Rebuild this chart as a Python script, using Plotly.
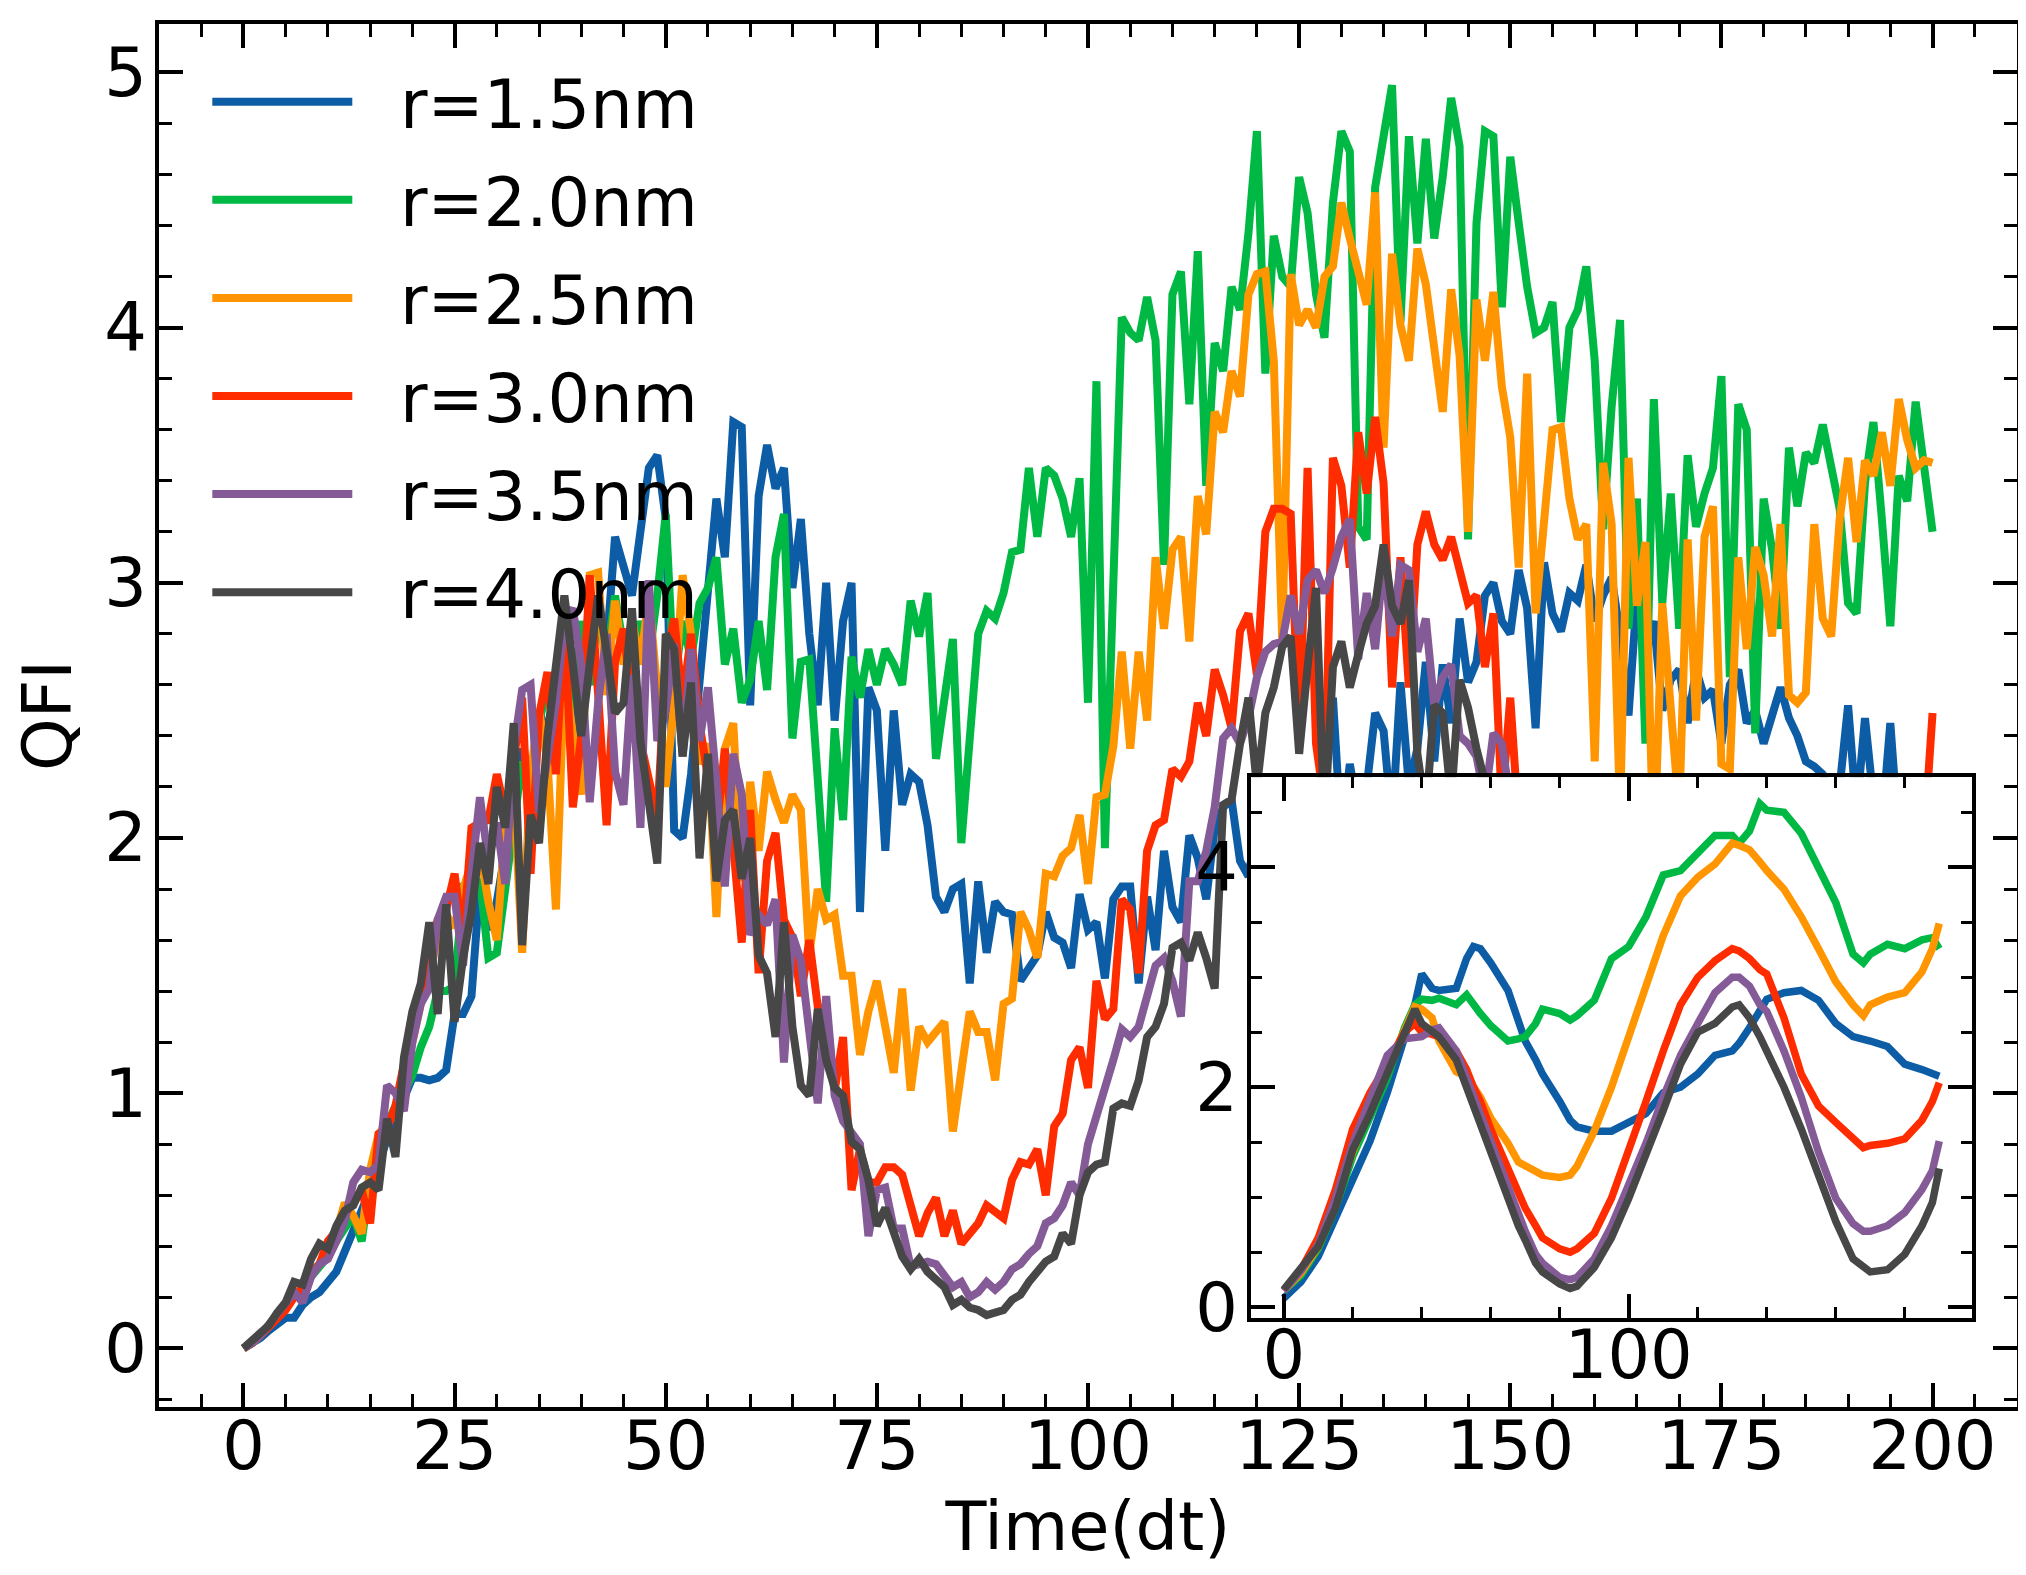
import plotly.graph_objects as go

# ---- main panel data: QFI vs time step (dt = 0..200) ----
qfi_r15 = [
    0.00, 0.02, 0.04, 0.07, 0.10, 0.12, 0.12, 0.17, 0.20, 0.22,
    0.26, 0.30, 0.38, 0.46, 0.52, 0.62, 0.72, 0.82, 0.92, 0.98,
    1.06, 1.06, 1.05, 1.06, 1.09, 1.31, 1.31, 1.38, 1.82, 1.64,
    1.75, 1.95, 2.15, 2.35, 2.20, 2.50, 2.40, 2.62, 2.45, 2.34,
    2.75, 2.60, 2.90, 2.75, 3.18, 3.07, 2.95, 3.20, 3.45, 3.50,
    3.25, 2.03, 2.00, 2.25, 2.64, 2.95, 3.33, 3.10, 3.63, 3.61,
    2.52, 3.34, 3.54, 3.37, 3.45, 2.98, 3.25, 2.80, 2.52, 3.00,
    2.46, 2.85, 3.00, 1.71, 2.59, 2.50, 1.95, 2.50, 2.13, 2.25,
    2.22, 2.05, 1.77, 1.71, 1.80, 1.82, 1.43, 1.83, 1.55, 1.75,
    1.71, 1.70, 1.44, 1.49, 1.54, 1.71, 1.61, 1.59, 1.49, 1.78,
    1.64, 1.67, 1.45, 1.76, 1.81, 1.81, 1.43, 1.77, 1.56, 1.95,
    1.73, 1.67, 2.01, 1.92, 1.76, 2.04, 2.12, 2.15, 1.91, 1.85,
    2.05, 1.95, 2.15, 1.90, 2.10, 2.20, 1.95, 2.15, 2.30, 2.55,
    2.00, 2.29, 2.10, 2.20, 2.49, 2.42, 2.05, 2.61, 2.20, 2.35,
    2.69, 2.30, 2.68, 2.45, 2.86, 2.61, 2.69, 2.95, 3.00, 2.85,
    2.80, 3.05, 2.90, 2.43, 3.08, 2.88, 2.81, 2.96, 2.93, 3.07,
    2.85, 2.95, 3.02, 2.80, 2.48, 2.95, 2.74, 2.85, 2.50, 2.62,
    2.66, 2.45, 2.66, 2.55, 2.58, 2.37, 2.60, 2.66, 2.45, 2.50,
    2.37, 2.48, 2.59, 2.47, 2.40, 2.30, 2.28, 2.25, 2.15, 2.20,
    2.52, 2.10, 2.47, 2.15, 2.05, 2.45, 2.00, 2.10, 2.05, 2.15,
    2.10,
]
qfi_r20 = [
    0.00, 0.02, 0.05, 0.08, 0.12, 0.16, 0.20, 0.24, 0.28, 0.31,
    0.36, 0.42, 0.47, 0.52, 0.42, 0.66, 0.80, 0.88, 0.95, 1.00,
    1.07, 1.18, 1.26, 1.40, 1.40, 1.42, 1.80, 1.78, 1.84, 1.53,
    1.55, 1.80, 2.05, 2.30, 2.10, 2.45, 2.60, 2.40, 2.75, 2.50,
    2.85, 2.60, 2.90, 2.70, 2.95, 2.75, 2.60, 2.85, 2.70, 2.95,
    3.27, 2.60, 2.85, 2.70, 2.92, 2.98, 3.10, 2.68, 2.82, 2.53,
    2.62, 2.85, 2.58, 3.10, 3.27, 2.39, 2.69, 2.70, 2.23, 1.75,
    2.43, 2.07, 2.71, 2.55, 2.74, 2.60, 2.74, 2.68, 2.60, 2.93,
    2.79, 2.96, 2.31, 2.53, 2.78, 1.98, 2.40, 2.80, 2.89, 2.86,
    2.96, 3.12, 3.13, 3.45, 3.18, 3.45, 3.42, 3.33, 3.18, 3.41,
    2.53, 3.79, 1.96, 3.13, 4.04, 3.98, 3.95, 4.12, 3.95, 3.07,
    4.13, 4.22, 3.70, 4.30, 3.38, 3.94, 3.83, 4.16, 4.07, 4.37,
    4.77, 3.82, 4.36, 4.20, 4.16, 4.59, 4.45, 4.13, 3.96, 4.49,
    4.77, 4.69, 3.22, 3.17, 4.55, 4.75, 4.95, 4.02, 4.75, 4.33,
    4.74, 4.35, 4.59, 4.90, 4.71, 3.17, 4.41, 4.77, 4.75, 4.08,
    4.67, 4.41, 4.16, 3.98, 4.00, 4.10, 3.63, 4.00, 4.07, 4.24,
    3.87, 3.21, 3.69, 4.03, 2.82, 3.33, 2.37, 3.72, 2.92, 3.35,
    2.82, 3.50, 3.22, 3.35, 3.45, 3.81, 2.63, 3.70, 3.60, 2.41,
    3.33, 3.13, 2.82, 3.53, 3.30, 3.51, 3.47, 3.62, 3.47, 3.29,
    2.92, 2.88, 3.39, 3.63, 3.25, 2.83, 3.42, 3.32, 3.71, 3.45,
    3.20,
]
qfi_r25 = [
    0.00, 0.02, 0.05, 0.09, 0.12, 0.16, 0.20, 0.24, 0.29, 0.33,
    0.38, 0.46, 0.57, 0.52, 0.45, 0.70, 0.84, 0.88, 0.92, 1.05,
    1.20, 1.35, 1.45, 1.62, 1.70, 1.65, 1.80, 1.90, 1.95, 1.75,
    1.60, 2.05, 2.20, 1.55, 2.25, 2.50, 2.30, 1.72, 2.65, 2.40,
    2.17, 3.03, 3.04, 2.56, 2.93, 2.68, 2.86, 2.68, 2.95, 2.58,
    2.20, 2.53, 3.03, 2.80, 2.29, 2.37, 1.69, 2.35, 2.45, 1.83,
    2.22, 1.95, 2.26, 2.15, 2.06, 2.17, 2.11, 1.54, 1.80, 1.68,
    1.70, 1.46, 1.46, 1.15, 1.32, 1.44, 1.26, 1.08, 1.41, 1.01,
    1.26, 1.20, 1.24, 1.28, 0.85, 1.11, 1.32, 1.24, 1.24, 1.05,
    1.35, 1.37, 1.71, 1.64, 1.53, 1.86, 1.85, 1.93, 1.96, 2.09,
    1.82, 2.16, 2.17, 2.36, 2.73, 2.35, 2.73, 2.46, 3.10, 2.82,
    3.13, 3.18, 2.77, 3.34, 3.19, 3.67, 3.59, 3.83, 3.73, 4.13,
    4.21, 4.22, 3.87, 2.77, 4.21, 4.01, 4.07, 4.00, 4.20, 4.24,
    4.49, 4.35, 4.21, 4.09, 4.53, 3.53, 4.29, 4.01, 3.87, 4.31,
    4.17, 3.93, 3.67, 4.15, 3.89, 3.20, 4.11, 3.87, 4.14, 3.77,
    3.57, 3.06, 3.82, 2.88, 3.25, 3.60, 3.61, 3.33, 3.17, 3.23,
    2.30, 3.47, 3.23, 2.10, 3.49, 2.91, 3.16, 1.90, 2.92, 2.53,
    2.10, 3.17, 2.46, 3.18, 3.30, 2.29, 2.27, 3.10, 2.74, 3.14,
    3.03, 2.79, 3.23, 2.56, 2.53, 2.57, 3.23, 2.86, 2.79, 3.25,
    3.49, 3.16, 3.48, 3.42, 3.59, 3.38, 3.72, 3.56, 3.45, 3.48,
    3.47,
]
qfi_r30 = [
    0.00, 0.02, 0.05, 0.08, 0.12, 0.15, 0.20, 0.24, 0.30, 0.33,
    0.42, 0.46, 0.52, 0.58, 0.62, 0.49, 0.84, 0.86, 0.95, 1.10,
    1.28, 1.38, 1.55, 1.68, 1.72, 1.86, 1.60, 2.04, 2.06, 2.07,
    2.25, 2.10, 2.30, 2.55, 1.86, 2.48, 2.65, 2.25, 2.86, 2.12,
    2.40, 3.03, 2.56, 2.05, 2.69, 2.82, 2.53, 2.38, 2.26, 2.08,
    2.69, 2.86, 2.53, 2.80, 2.45, 2.23, 2.02, 2.35, 2.00, 1.59,
    2.11, 1.47, 1.91, 2.02, 1.68, 1.61, 1.38, 1.60, 1.34, 1.32,
    1.01, 1.22, 0.62, 0.78, 0.65, 0.65, 0.71, 0.71, 0.68, 0.55,
    0.44, 0.53, 0.59, 0.44, 0.54, 0.41, 0.45, 0.49, 0.56, 0.53,
    0.51, 0.66, 0.73, 0.72, 0.78, 0.60, 0.87, 0.92, 1.13, 1.18,
    1.02, 1.44, 1.29, 1.33, 1.76, 1.72, 1.47, 1.95, 2.05, 2.07,
    2.27, 2.24, 2.30, 2.53, 2.40, 2.66, 2.56, 2.43, 2.81, 2.88,
    2.64, 3.20, 3.29, 3.29, 3.27, 2.37, 3.45, 2.37, 2.13, 3.49,
    3.38, 3.06, 3.59, 3.35, 3.65, 3.39, 2.59, 3.10, 2.59, 3.15,
    3.28, 3.15, 3.09, 3.18, 3.05, 2.92, 2.95, 2.67, 2.88, 2.13,
    2.55, 2.05, 2.10, 1.95, 2.00, 1.85, 1.90, 1.75, 1.80, 1.70,
    1.75, 1.60, 1.70, 1.55, 1.65, 1.50, 1.60, 1.45, 1.55, 1.40,
    1.50, 1.40, 1.45, 1.38, 1.50, 1.40, 1.48, 1.42, 1.50, 1.45,
    1.55, 1.50, 1.60, 1.55, 1.65, 1.60, 1.70, 1.68, 1.80, 1.75,
    1.85, 1.90, 1.95, 1.90, 2.05, 2.00, 2.10, 2.05, 2.15, 2.00,
    2.49,
]
qfi_r35 = [
    0.00, 0.02, 0.05, 0.09, 0.13, 0.17, 0.22, 0.18, 0.28, 0.33,
    0.35, 0.42, 0.50, 0.65, 0.70, 0.69, 0.72, 1.03, 1.00, 0.93,
    1.20, 1.35, 1.41, 1.68, 1.77, 1.77, 1.50, 1.86, 2.16, 1.91,
    2.06, 1.82, 2.35, 2.58, 2.60, 2.10, 2.30, 2.53, 2.85, 2.90,
    2.68, 2.14, 2.53, 2.80, 2.26, 2.13, 2.64, 2.04, 3.01, 2.38,
    2.50, 2.76, 2.32, 2.74, 2.38, 2.59, 2.22, 1.81, 2.33, 2.17,
    1.62, 1.70, 1.66, 1.76, 1.12, 1.62, 1.52, 1.26, 0.96, 1.38,
    0.99, 0.89, 0.85, 0.80, 0.44, 0.62, 0.63, 0.47, 0.47, 0.32,
    0.33, 0.34, 0.33, 0.29, 0.24, 0.26, 0.20, 0.22, 0.26, 0.23,
    0.26, 0.31, 0.33, 0.37, 0.40, 0.49, 0.51, 0.56, 0.65, 0.60,
    0.80, 0.91, 1.01, 1.13, 1.25, 1.22, 1.26, 1.38, 1.50, 1.53,
    1.44, 1.30, 1.83, 1.83, 1.95, 2.12, 2.39, 2.43, 2.37, 2.47,
    2.63, 2.73, 2.76, 2.77, 2.95, 2.80, 3.01, 3.05, 2.96, 3.06,
    3.18, 3.25, 2.70, 2.96, 2.74, 3.09, 2.79, 3.07, 3.05, 2.73,
    2.86, 2.52, 2.63, 2.68, 2.40, 2.37, 2.32, 2.15, 2.41, 2.37,
    2.15, 2.00, 1.95, 1.80, 1.75, 1.60, 1.50, 1.40, 1.30, 1.25,
    1.15, 1.10, 1.00, 0.95, 0.90, 0.85, 0.80, 0.78, 0.74, 0.72,
    0.70, 0.68, 0.70, 0.68, 0.70, 0.72, 0.74, 0.76, 0.80, 0.82,
    0.85, 0.88, 0.92, 0.95, 0.98, 1.00, 1.05, 1.10, 1.15, 1.20,
    1.28, 1.35, 1.40, 1.48, 1.55, 1.60, 1.68, 1.75, 1.80, 1.88,
    1.95,
]
qfi_r40 = [
    0.00, 0.03, 0.06, 0.09, 0.14, 0.18, 0.26, 0.25, 0.35, 0.41,
    0.39, 0.48, 0.54, 0.56, 0.63, 0.65, 0.62, 0.90, 0.75, 1.14,
    1.32, 1.43, 1.67, 1.31, 1.74, 1.28, 1.53, 1.71, 1.98, 1.82,
    2.20, 2.04, 2.45, 1.58, 2.09, 1.98, 2.40, 2.65, 2.95, 2.68,
    2.40, 2.68, 2.95, 2.73, 2.49, 2.53, 2.90, 2.38, 2.14, 1.90,
    2.80, 2.74, 2.32, 2.61, 1.92, 2.33, 1.83, 2.07, 2.11, 1.84,
    2.00, 1.54, 1.47, 1.22, 1.67, 1.26, 1.03, 0.99, 1.33, 1.13,
    1.02, 0.99, 0.81, 0.78, 0.66, 0.48, 0.55, 0.45, 0.36, 0.31,
    0.35, 0.30, 0.27, 0.24, 0.17, 0.19, 0.16, 0.15, 0.13, 0.14,
    0.15, 0.19, 0.21, 0.26, 0.30, 0.34, 0.36, 0.45, 0.41, 0.60,
    0.69, 0.72, 0.73, 0.94, 0.96, 0.95, 1.05, 1.22, 1.26, 1.35,
    1.57, 1.59, 1.52, 1.63, 1.53, 1.41, 2.13, 2.15, 2.37, 2.55,
    2.20, 2.49, 2.59, 2.75, 2.79, 2.33, 2.67, 2.98, 2.05, 2.67,
    2.77, 2.59, 2.72, 2.84, 2.91, 3.15, 2.91, 2.84, 3.01, 2.33,
    2.10, 2.52, 2.49, 2.15, 2.62, 2.51, 2.35, 2.22, 2.05, 1.95,
    1.85, 1.90, 1.70, 1.55, 1.60, 1.40, 1.35, 1.20, 1.15, 1.00,
    0.95, 0.85, 0.80, 0.70, 0.68, 0.60, 0.55, 0.50, 0.45, 0.42,
    0.38, 0.35, 0.33, 0.30, 0.31, 0.29, 0.32, 0.34, 0.36, 0.40,
    0.45, 0.50, 0.55, 0.60, 0.66, 0.70, 0.75, 0.80, 0.86, 0.90,
    0.95, 1.00, 1.08, 1.15, 1.20, 1.28, 1.35, 1.42, 1.50, 1.55,
    1.62,
]

# ---- inset data: smoothed curves ----
t_inset = [0, 5, 10, 15, 20, 25, 30, 35, 38, 40, 43, 45, 50, 53, 55, 57, 60, 65,
           68, 70, 73, 75, 80, 83, 85, 90, 95, 100, 105, 110, 115, 120, 125, 130,
           132, 135, 138, 140, 145, 150, 155, 160, 165, 168, 170, 175, 180, 185,
           188, 190]
sm_r15 = [0.08, 0.23, 0.46, 0.82, 1.18, 1.51, 1.95, 2.46, 2.75, 3.03, 2.90, 2.88,
          2.90, 3.17, 3.28, 3.26, 3.13, 2.88, 2.63, 2.42, 2.25, 2.12, 1.87, 1.70,
          1.64, 1.60, 1.60, 1.68, 1.76, 1.95, 2.00, 2.12, 2.29, 2.33, 2.40, 2.54,
          2.70, 2.80, 2.86, 2.88, 2.79, 2.58, 2.46, 2.44, 2.42, 2.37, 2.21, 2.16,
          2.13, 2.10]
sm_r20 = [0.15, 0.29, 0.53, 0.90, 1.37, 1.74, 2.08, 2.54, 2.75, 2.80, 2.79, 2.81,
          2.75, 2.84, 2.75, 2.67, 2.56, 2.42, 2.44, 2.46, 2.58, 2.71, 2.67, 2.61,
          2.65, 2.79, 3.17, 3.28, 3.55, 3.93, 3.97, 4.14, 4.29, 4.29, 4.22, 4.33,
          4.58, 4.52, 4.50, 4.31, 4.01, 3.68, 3.21, 3.13, 3.21, 3.30, 3.26, 3.34,
          3.36, 3.26]
sm_r25 = [0.15, 0.31, 0.55, 0.95, 1.41, 1.81, 2.16, 2.54, 2.73, 2.71, 2.63, 2.42,
          2.14, 2.10, 2.00, 1.91, 1.72, 1.49, 1.32, 1.28, 1.22, 1.20, 1.18, 1.20,
          1.28, 1.60, 2.00, 2.46, 2.88, 3.38, 3.74, 3.91, 4.03, 4.22, 4.20, 4.16,
          4.05, 3.97, 3.80, 3.55, 3.26, 2.96, 2.75, 2.65, 2.75, 2.82, 2.86, 3.05,
          3.26, 3.49]
sm_r30 = [0.15, 0.34, 0.63, 1.07, 1.62, 1.95, 2.21, 2.50, 2.58, 2.50, 2.48, 2.46,
          2.33, 2.16, 2.00, 1.87, 1.62, 1.28, 1.07, 0.90, 0.74, 0.63, 0.53, 0.50,
          0.53, 0.67, 0.99, 1.41, 1.87, 2.33, 2.75, 3.00, 3.15, 3.26, 3.24, 3.17,
          3.07, 3.03, 2.63, 2.12, 1.83, 1.68, 1.55, 1.45, 1.47, 1.49, 1.53, 1.70,
          1.87, 2.04]
sm_r35 = [0.15, 0.33, 0.57, 0.99, 1.49, 1.89, 2.29, 2.44, 2.46, 2.46, 2.52, 2.54,
          2.33, 2.08, 1.91, 1.74, 1.49, 1.07, 0.86, 0.69, 0.48, 0.40, 0.27, 0.25,
          0.27, 0.44, 0.74, 1.11, 1.49, 1.91, 2.29, 2.58, 2.86, 3.00, 3.00, 2.92,
          2.75, 2.69, 2.33, 1.91, 1.41, 0.99, 0.76, 0.69, 0.69, 0.74, 0.86, 1.07,
          1.24, 1.51]
sm_r40 = [0.16, 0.35, 0.55, 0.90, 1.43, 1.76, 2.12, 2.48, 2.71, 2.58, 2.52, 2.46,
          2.25, 2.00, 1.79, 1.62, 1.37, 0.99, 0.74, 0.61, 0.40, 0.32, 0.21, 0.17,
          0.19, 0.36, 0.63, 0.99, 1.37, 1.79, 2.21, 2.50, 2.58, 2.73, 2.75, 2.63,
          2.46, 2.33, 2.00, 1.62, 1.20, 0.78, 0.44, 0.36, 0.32, 0.34, 0.48, 0.74,
          0.95, 1.26]

labels = ['r=1.5nm', 'r=2.0nm', 'r=2.5nm', 'r=3.0nm', 'r=3.5nm', 'r=4.0nm']
colors = ['#0C5DA5', '#00B945', '#FF9500', '#FF2C00', '#845B97', '#474747']
main_series = [qfi_r15, qfi_r20, qfi_r25, qfi_r30, qfi_r35, qfi_r40]
inset_series = [sm_r15, sm_r20, sm_r25, sm_r30, sm_r35, sm_r40]

FONT = 'DejaVu Sans'
FS = 67
GAP = '\u00a0\u00a0'  # space between legend line and its label

fig = go.Figure()

for name, col, ys in zip(labels, colors, main_series):
    fig.add_trace(go.Scatter(
        x=list(range(len(ys))), y=ys, mode='lines', name=GAP + name,
        legendgroup=name,
        line=dict(color=col, width=8),
        xaxis='x', yaxis='y',
    ))

for name, col, ys in zip(labels, colors, inset_series):
    fig.add_trace(go.Scatter(
        x=t_inset, y=ys, mode='lines', name=name, showlegend=False,
        line=dict(color=col, width=7.5),
        xaxis='x2', yaxis='y2',
    ))

axis_common = dict(
    ticks='inside', tickcolor='black', tickwidth=3.5, ticklen=24,
    showline=True, linecolor='black', linewidth=3.5, mirror='allticks',
    showgrid=False, zeroline=False,
    tickfont=dict(family=FONT, size=FS, color='black'),
)

fig.update_layout(
    width=2026, height=1575, autosize=False,
    margin=dict(l=151, r=17, t=16, b=176),
    plot_bgcolor='white', paper_bgcolor='white',
    font=dict(family=FONT, size=FS, color='black'),
    showlegend=True,
    legend=dict(
        x=0.026, y=0.98, xanchor='left', yanchor='top',
        bgcolor='rgba(0,0,0,0)', borderwidth=0,
        font=dict(family=FONT, size=FS, color='black'),
        itemwidth=140, tracegroupgap=8,
    ),
    xaxis=dict(
        domain=[0, 1], anchor='y', range=[-10, 210],
        tick0=0, dtick=25, ticklabelstandoff=-22,
        minor=dict(dtick=5, ticks='inside', ticklen=13, tickwidth=3,
                   tickcolor='black', showgrid=False),
        title=dict(text='Time(dt)', font=dict(family=FONT, size=FS), standoff=20),
        **axis_common,
    ),
    yaxis=dict(
        domain=[0, 1], anchor='x', range=[-0.23, 5.19],
        tick0=0, dtick=1, ticklabelstandoff=-5,
        minor=dict(dtick=0.2, ticks='inside', ticklen=13, tickwidth=3,
                   tickcolor='black', showgrid=False),
        title=dict(text='QFI', font=dict(family=FONT, size=FS), standoff=12),
        **axis_common,
    ),
    xaxis2=dict(
        domain=[0.5877, 0.9758], anchor='y2', range=[-9.5, 199.5],
        tick0=0, dtick=100, ticklabelstandoff=-24,
        minor=dict(dtick=20, ticks='inside', ticklen=11, tickwidth=3,
                   tickcolor='black', showgrid=False),
        **axis_common,
    ),
    yaxis2=dict(
        domain=[0.0643, 0.4554], anchor='x2', range=[-0.1, 4.82],
        tick0=0, dtick=2, ticklabelstandoff=-4,
        minor=dict(dtick=0.5, ticks='inside', ticklen=11, tickwidth=3,
                   tickcolor='black', showgrid=False),
        **axis_common,
    ),
)

fig.write_html("out.html")
